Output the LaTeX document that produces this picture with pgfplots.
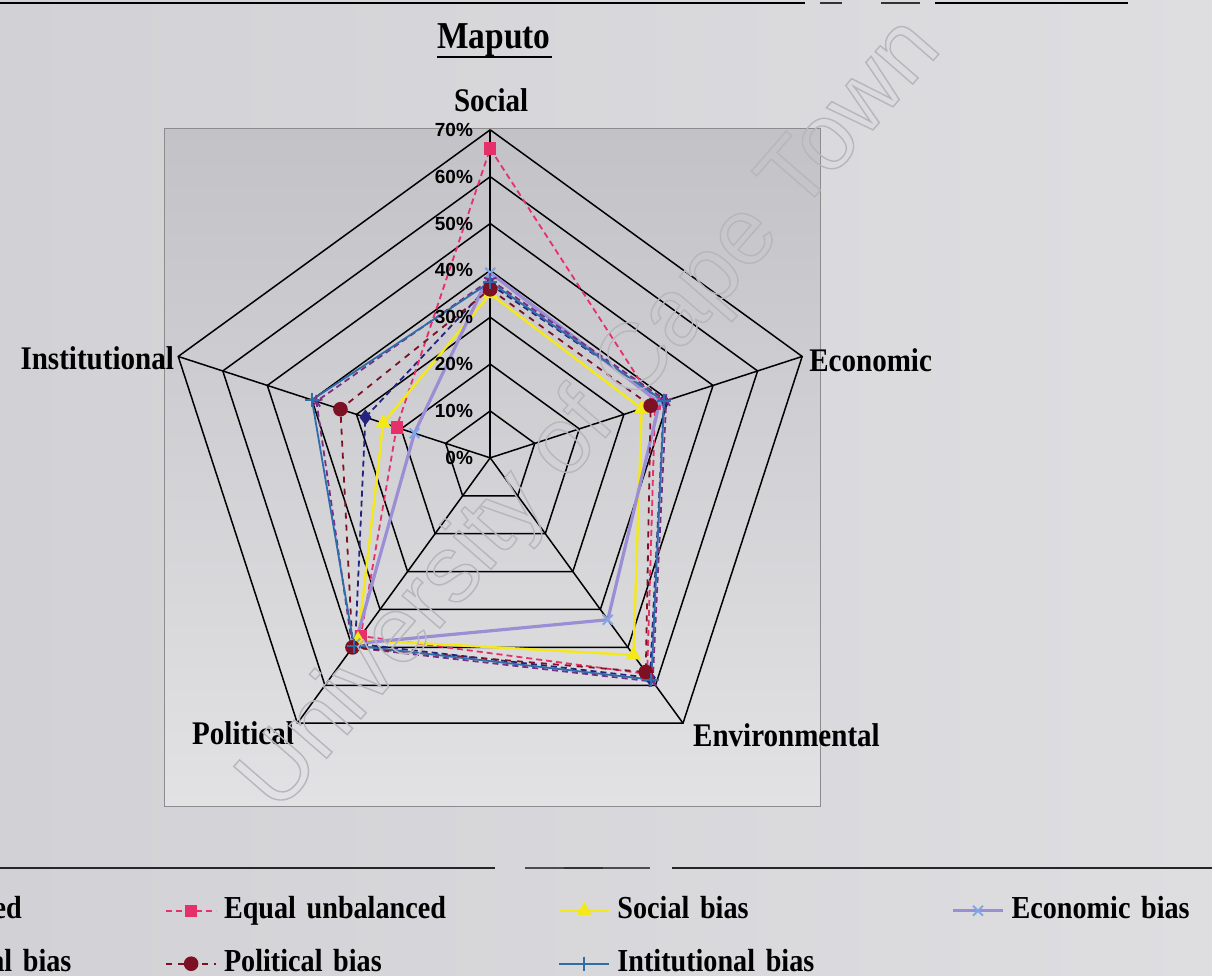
\documentclass[border=0pt]{standalone}
\usepackage{fontspec}
\setmainfont{Liberation Serif}[FakeStretch=0.88]
\newfontfamily\tickfont{Liberation Sans}
\newfontfamily\wmfont{Liberation Sans}
\usepackage{pgfplots}
\pgfplotsset{compat=1.18}

\definecolor{pagebgL}{HTML}{D2D2D6}
\definecolor{pagebgR}{HTML}{DEDEE1}
\definecolor{boxtop}{HTML}{C2C2C7}
\definecolor{boxbot}{HTML}{E2E2E4}
\definecolor{cEB}{HTML}{24247E}
\definecolor{cEU}{HTML}{E5306A}
\definecolor{cSB}{HTML}{F2E81A}
\definecolor{cEcB}{HTML}{9C8ED4}
\definecolor{cEcM}{HTML}{7FA6E6}
\definecolor{cEnB}{HTML}{7A2C86}
\definecolor{cPB}{HTML}{7E1024}
\definecolor{cIB}{HTML}{2F6DAA}
\definecolor{wm}{HTML}{B6B6BC}

\newcommand{\labfont}{\bfseries\fontsize{16.5}{18}\selectfont}
\newcommand{\keyfont}{\bfseries\fontsize{16}{18}\selectfont}

\begin{document}
\begin{tikzpicture}[x=0.5pt,y=-0.5pt]
\useasboundingbox (0,0) rectangle (1212,976);
\clip (0,0) rectangle (1212,976);
\shade[left color=pagebgL, right color=pagebgR] (0,0) rectangle (1212,976);

% rule across the top of the page
\draw[line width=1.3pt, black] (0,3) -- (805,3);
\draw[line width=1.3pt, black] (935,3) -- (1128,3);
\draw[line width=1.0pt, black!80] (820,3) -- (842,3) (881,3) -- (920,3);

% title
\node[font=\bfseries\fontsize{19}{21}\selectfont] at (494,40) {Maputo};
\draw[line width=1.4pt] (437,57) -- (552,57);

\begin{axis}[
  at={(82.5pt,-403pt)}, anchor=south west,
  x=2.343pt, y=2.343pt,
  xmin=-69.4, xmax=70.4, ymin=-74.3, ymax=70.2,
  axis lines=box, xtick=\empty, ytick=\empty,
  axis line style={draw=black!45, line width=0.5pt},
  axis background/.style={shade, top color=boxtop, bottom color=boxbot},
  clip=false,
  legend columns=4,
  legend style={at={(-0.609,-0.109)}, anchor=north west,
    draw=none, fill=none, font=\keyfont,
    nodes={text width=160pt, align=left, inner xsep=3.5pt, inner ysep=6.25pt,
           text height=11pt, text depth=3pt},
    /tikz/every odd column/.style={column sep=0pt},
    /tikz/every even column/.style={column sep=3.5pt}},
  legend image code/.code={\draw[mark repeat=2,mark phase=2,#1]
     plot coordinates {(0pt,0pt) (12.5pt,0pt) (25pt,0pt)};},
]
% pentagonal grid rings, 10% to 70%
\pgfplotsinvokeforeach{10,20,30,40,50,60,70}{
  \addplot[black, line width=0.75pt, data cs=polar, forget plot]
    coordinates {(90,#1) (18,#1) (-54,#1) (-126,#1) (162,#1) (90,#1)};
}
% spokes
\pgfplotsinvokeforeach{90,18,-54,-126,162}{
  \addplot[black, line width=0.75pt, data cs=polar, forget plot]
    coordinates {(#1,0) (#1,70)};
}

% series: Social, Economic, Environmental, Political, Institutional
\addplot[cEB, line width=0.9pt, densely dashed, mark=diamond*, mark size=3.2pt,
  mark options={solid}, data cs=polar]
  coordinates {(90,37) (18,39) (-54,58) (-126,49) (162,28) (90,37)};
\addlegendentry{Equal balanced}
\addplot[cEU, line width=0.9pt, densely dashed, mark=square*, mark size=2.6pt,
  mark options={solid}, data cs=polar]
  coordinates {(90,66) (18,37) (-54,57) (-126,47) (162,21) (90,66)};
\addlegendentry{Equal unbalanced}
\addplot[cSB, line width=1.2pt, mark=triangle*, mark size=3.2pt, data cs=polar]
  coordinates {(90,35) (18,34) (-54,52) (-126,48) (162,24) (90,35)};
\addlegendentry{Social bias}
\addplot[cEcB, line width=1.6pt, mark=x, mark size=3.5pt,
  mark options={cEcM, line width=1pt}, data cs=polar]
  coordinates {(90,39.5) (18,38) (-54,42.7) (-126,49) (162,17) (90,39.5)};
\addlegendentry{Economic bias}
\addplot[cEnB, line width=0.9pt, densely dashed, mark=star, mark size=3.2pt,
  mark options={solid}, data cs=polar]
  coordinates {(90,38) (18,39.5) (-54,59) (-126,50) (162,39) (90,38)};
\addlegendentry{Environmental bias}
\addplot[cPB, line width=0.9pt, dashed, mark=*, mark size=3.2pt,
  mark options={solid}, data cs=polar]
  coordinates {(90,36) (18,36) (-54,56.5) (-126,50) (162,33.6) (90,36)};
\addlegendentry{Political bias}
\addplot[cIB, line width=0.9pt, mark=+, mark size=3.5pt,
  mark options={line width=1pt}, data cs=polar]
  coordinates {(90,37.5) (18,39) (-54,58.5) (-126,49.5) (162,40) (90,37.5)};
\addlegendentry{Intitutional bias}

% category labels
\node[font=\labfont] at (axis cs:0.2,76.4) {Social};
\node[font=\labfont, anchor=west] at (axis cs:66.6,20.9) {Economic};
\node[font=\labfont, anchor=east] at (axis cs:-66.0,21.3) {Institutional};
\node[font=\labfont, anchor=west] at (axis cs:41.8,-59.1) {Environmental};
\node[font=\labfont, anchor=east] at (axis cs:-40.4,-58.7) {Political};

% radial scale
\pgfplotsinvokeforeach{0,10,20,30,40,50,60,70}{
  \node[font=\tickfont\bfseries\fontsize{9.5}{10}\selectfont, anchor=east, inner sep=0pt]
    at (axis cs:-3.6,#1) {#1\%};
}
\end{axis}

% rule above the key
\draw[line width=0.9pt, black!85] (0,868) -- (495,868);
\draw[line width=0.6pt, black!70] (525,868) -- (650,868);
\draw[line width=1.2pt, black!80] (564,868) -- (603,868);
\draw[line width=0.9pt, black!85] (672,868) -- (1212,868);

% watermark
\node[rotate=49, text=wm, inner sep=0pt] at (592,416)
  {\wmfont\fontsize{47}{47}\selectfont\special{pdf:literal direct 1 Tr 0.7 w}University of Cape Town\special{pdf:literal direct 0 Tr}};
\end{tikzpicture}
\end{document}
